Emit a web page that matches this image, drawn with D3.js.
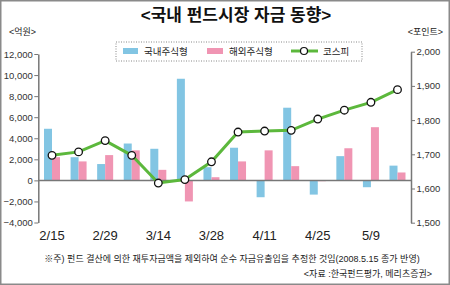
<!DOCTYPE html>
<html>
<head>
<meta charset="utf-8">
<script src="https://cdn.jsdelivr.net/npm/d3@7"></script>
<style>
  body { margin: 0; background: #fff; }
  text { font-family: "Liberation Sans", "Noto Sans CJK KR", sans-serif; }
</style>
</head>
<body>
<div id="chart"></div>
<script>
// weekly data (억원 / 포인트)
var dates = ["2/15","2/22","2/29","3/7","3/14","3/21","3/28","4/4","4/11","4/18","4/25","5/2","5/9","5/15"];
var domestic = [4900, 2200, 1550, 3500, 3000, 9650, 1250, 3100, -1600, 6900, -1350, 2300, -650, 1400];
var overseas = [2200, 1800, 2400, 2850, 1000, -2000, 300, 1800, 2850, 1350, -80, 3050, 5050, 750];
var kospi = [1697, 1707, 1740, 1697, 1616, 1626, 1678, 1765, 1768, 1770, 1803, 1829, 1852, 1889];
var xLabels = ["2/15","2/29","3/14","3/28","4/11","4/25","5/9"];
var leftTicks = [-4000, -2000, 0, 2000, 4000, 6000, 8000, 10000, 12000];
var rightTicks = [1500, 1600, 1700, 1800, 1900, 2000];

var W = 450, H = 285;
var blue = "#82c5e3", pink = "#f095b3", green = "#5cb83c";

var svg = d3.select("#chart").append("svg")
  .attr("width", W).attr("height", H);

// outer frame
svg.append("rect")
  .attr("x", 0.75).attr("y", 0.75)
  .attr("width", W - 1.5).attr("height", H - 1.5)
  .attr("fill", "#fff").attr("stroke", "#8a8a8a").attr("stroke-width", 1.5);

// scales
var x = d3.scalePoint().domain(dates).range([52, 397.5]);
var yL = d3.scaleLinear().domain([-4000, 12000]).range([222.5, 54]);
var yR = d3.scaleLinear().domain([1500, 2000]).range([222.7, 51.7]);
var axisL = 38.3, axisR = 411;
var bw = 8;

// title
svg.append("text")
  .attr("x", 236).attr("y", 21)
  .attr("text-anchor", "middle")
  .attr("font-size", "17px").attr("font-weight", "bold").attr("fill", "#111")
  .text("<국내 펀드시장 자금 동향>");

svg.append("text").attr("x", 9).attr("y", 35)
  .attr("font-size", "9px").attr("fill", "#222").text("<억원>");
svg.append("text").attr("x", 443).attr("y", 35).attr("text-anchor", "end")
  .attr("font-size", "9px").attr("fill", "#222").text("<포인트>");

// bars
svg.append("g").selectAll("rect")
  .data(domestic).enter().append("rect")
    .attr("x", function(d, i) { return x(dates[i]) - bw; })
    .attr("y", function(d) { return Math.min(yL(d), yL(0)); })
    .attr("width", bw)
    .attr("height", function(d) { return Math.abs(yL(d) - yL(0)); })
    .attr("fill", blue);

svg.append("g").selectAll("rect")
  .data(overseas).enter().append("rect")
    .attr("x", function(d, i) { return x(dates[i]); })
    .attr("y", function(d) { return Math.min(yL(d), yL(0)); })
    .attr("width", bw)
    .attr("height", function(d) { return Math.abs(yL(d) - yL(0)); })
    .attr("fill", pink);

// zero line
svg.append("line")
  .attr("x1", axisL).attr("x2", axisR)
  .attr("y1", yL(0)).attr("y2", yL(0))
  .attr("stroke", "#777").attr("stroke-width", 1.5);

// axes
var gL = svg.append("g").attr("transform", "translate(" + axisL + ",0)")
  .call(d3.axisLeft(yL).tickValues(leftTicks).tickSize(4).tickSizeOuter(0).tickPadding(1.5)
    .tickFormat(d3.format(",")));
var gR = svg.append("g").attr("transform", "translate(" + axisR + ",0)")
  .call(d3.axisRight(yR).tickValues(rightTicks).tickSize(4).tickSizeOuter(0).tickPadding(1.5)
    .tickFormat(d3.format(",")));
[gL, gR].forEach(function(g) {
  g.select(".domain").attr("stroke", "#777").attr("stroke-width", 1.5);
  g.selectAll(".tick line").attr("stroke", "#777");
  g.selectAll(".tick text").attr("fill", "#333").attr("font-size", "9.5px")
    .attr("font-family", "Liberation Sans, sans-serif");
});

// x labels
svg.append("g").selectAll("text")
  .data(xLabels).enter().append("text")
    .attr("x", function(d) { return x(d); })
    .attr("y", 240)
    .attr("text-anchor", "middle")
    .attr("font-size", "13px").attr("fill", "#222")
    .text(function(d) { return d; });

// kospi line
var line = d3.line()
  .x(function(d, i) { return x(dates[i]); })
  .y(function(d) { return yR(d); });
svg.append("path").datum(kospi)
  .attr("d", line)
  .attr("fill", "none").attr("stroke", green).attr("stroke-width", 3);
svg.append("g").selectAll("circle")
  .data(kospi).enter().append("circle")
    .attr("cx", function(d, i) { return x(dates[i]); })
    .attr("cy", function(d) { return yR(d); })
    .attr("r", 3.8)
    .attr("fill", "#fff").attr("stroke", "#111").attr("stroke-width", 1.3);

// legend
var lg = svg.append("g");
lg.append("rect")
  .attr("x", 116).attr("y", 42).attr("width", 246).attr("height", 19)
  .attr("fill", "#fff").attr("stroke", "#888").attr("stroke-width", 1)
  .attr("stroke-dasharray", "1,1.5");
lg.append("rect").attr("x", 123).attr("y", 48).attr("width", 15).attr("height", 6).attr("fill", blue);
lg.append("text").attr("x", 144).attr("y", 55).attr("font-size", "9.5px").attr("fill", "#222").text("국내주식형");
lg.append("rect").attr("x", 207).attr("y", 48).attr("width", 16).attr("height", 6).attr("fill", pink);
lg.append("text").attr("x", 229).attr("y", 55).attr("font-size", "9.5px").attr("fill", "#222").text("해외주식형");
lg.append("line").attr("x1", 291).attr("x2", 318).attr("y1", 51).attr("y2", 51)
  .attr("stroke", green).attr("stroke-width", 3);
lg.append("circle").attr("cx", 304).attr("cy", 51).attr("r", 3.5)
  .attr("fill", "#fff").attr("stroke", "#111").attr("stroke-width", 1.2);
lg.append("text").attr("x", 323).attr("y", 55).attr("font-size", "9.5px").attr("fill", "#222").text("코스피");

// notes
svg.append("text").attr("x", 232).attr("y", 262).attr("text-anchor", "middle")
  .attr("font-size", "9px").attr("fill", "#222")
  .text("※주) 펀드 결산에 의한 재투자금액을 제외하여 순수 자금유출입을 추정한 것임(2008.5.15 종가 반영)");
svg.append("text").attr("x", 432).attr("y", 277).attr("text-anchor", "end")
  .attr("font-size", "9px").attr("fill", "#222")
  .text("<자료 :한국펀드평가, 메리츠증권>");
</script>
</body>
</html>
